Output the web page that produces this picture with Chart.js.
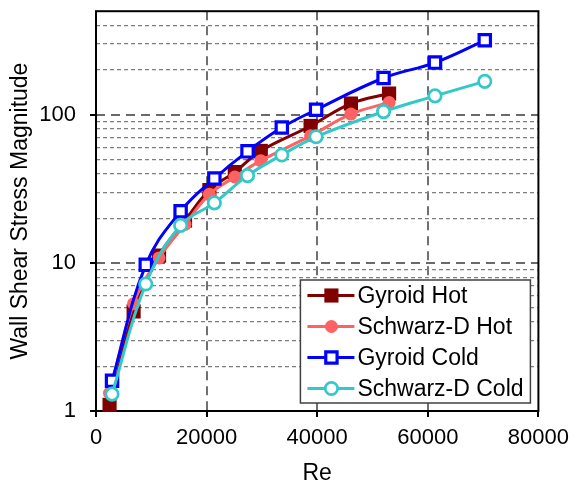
<!DOCTYPE html>
<html>
<head>
<meta charset="utf-8">
<script src="https://cdn.jsdelivr.net/npm/chart.js@4.4.1/dist/chart.umd.min.js"></script>
<style>
  html, body { margin: 0; padding: 0; background: #fff; }
  #wrap { width: 577px; height: 485px; }
</style>
</head>
<body>
<div id="wrap"><canvas id="wssChart" width="577" height="485"></canvas></div>
<script>
// Reynolds numbers and wall shear stress for each case
const reHot = [2450, 6800, 11400, 16100, 20500, 25100, 29800, 38800, 46100, 53000];
const gyroidHot = [1.1, 4.7, 11.2, 19.3, 31, 41, 57, 84, 119, 139];
const schwarzHot = [1.32, 5.3, 10.8, 18.2, 29, 38, 49, 72, 101, 121];

const reCold = [2900, 9000, 15300, 21400, 27400, 33600, 39800, 52000, 61300, 70300];
const gyroidCold = [1.6, 9.7, 22.3, 37.1, 56.6, 82, 108, 177, 225, 318];
const schwarzCold = [1.3, 7.2, 17.9, 25.4, 38.8, 53.5, 71, 105, 134, 168];

const seriesNames = ['Gyroid Hot', 'Schwarz-D Hot', 'Gyroid Cold', 'Schwarz-D Cold'];

// axis ticks
const xTickValues = [0, 20000, 40000, 60000, 80000];
const yTickLabels = [1, 10, 100];
const yGridValues = [1, 2, 3, 4, 5, 6, 7, 8, 9, 10, 20, 30, 40, 50, 60, 70, 80, 90, 100, 200, 300, 400, 500];

const FONT = "'Liberation Sans', Arial, sans-serif";

function pairs(xs, ys) {
    return xs.map((x, i) => ({ x: x, y: ys[i] }));
}

function isMajorY(ctx) {
    return ctx.tick && yTickLabels.includes(ctx.tick.value);
}

const framePlugin = {
    id: 'frame',
    beforeDatasetsDraw(chart) {
        const { ctx, chartArea: a } = chart;
        ctx.save();
        ctx.strokeStyle = '#000';
        ctx.lineWidth = 2;
        ctx.strokeRect(a.left, a.top, a.right - a.left, a.bottom - a.top);
        ctx.restore();
    }
};

// legend box drawn inside the plot, bottom right
const boxLegend = {
    id: 'boxLegend',
    afterDraw(chart) {
        const { ctx, chartArea: a } = chart;
        const w = 230, h = 123;
        const left = a.right - 8 - w;
        const top = a.bottom - 8 - h;
        ctx.save();
        ctx.fillStyle = '#fff';
        ctx.fillRect(left, top, w, h);
        ctx.strokeStyle = '#404040';
        ctx.lineWidth = 1.5;
        ctx.strokeRect(left, top, w, h);

        chart.data.datasets.forEach((ds, i) => {
            const y = top + 15.5 + i * 31;
            ctx.strokeStyle = ds.borderColor;
            ctx.lineWidth = 3;
            ctx.beginPath();
            ctx.moveTo(left + 7, y);
            ctx.lineTo(left + 54, y);
            ctx.stroke();

            ctx.fillStyle = ds.pointBackgroundColor;
            ctx.strokeStyle = ds.borderColor;
            ctx.lineWidth = ds.pointBorderWidth;
            Chart.helpers.drawPoint(ctx, {
                pointStyle: ds.pointStyle,
                radius: ds.pointRadius,
                borderWidth: ds.pointBorderWidth,
                rotation: 0
            }, left + 31, y);

            ctx.fillStyle = '#000';
            ctx.font = '23px ' + FONT;
            ctx.textBaseline = 'middle';
            ctx.textAlign = 'left';
            ctx.fillText(ds.label, left + 57, y + 1);
        });
        ctx.restore();
    }
};

const ctx = document.getElementById('wssChart').getContext('2d');
new Chart(ctx, {
    type: 'line',
    data: {
        datasets: [
            {
                label: seriesNames[0],
                data: pairs(reHot, gyroidHot),
                borderColor: '#800000',
                pointBackgroundColor: '#800000',
                pointStyle: 'rect',
                pointRadius: 10,
                pointBorderWidth: 0,
                order: 3
            },
            {
                label: seriesNames[1],
                data: pairs(reHot, schwarzHot),
                borderColor: '#ff6262',
                pointBackgroundColor: '#ff6262',
                pointStyle: 'circle',
                pointRadius: 6.5,
                pointBorderWidth: 0,
                order: 2
            },
            {
                label: seriesNames[2],
                data: pairs(reCold, gyroidCold),
                borderColor: '#0000ff',
                pointBackgroundColor: '#ffffff',
                pointStyle: 'rect',
                pointRadius: 8,
                pointBorderWidth: 3.2,
                order: 1
            },
            {
                label: seriesNames[3],
                data: pairs(reCold, schwarzCold),
                borderColor: '#33c9c9',
                pointBackgroundColor: '#ffffff',
                pointStyle: 'circle',
                pointRadius: 6.2,
                pointBorderWidth: 2.7,
                order: 0
            }
        ]
    },
    options: {
        responsive: false,
        animation: false,
        clip: false,
        layout: { padding: { top: 11, right: 33, left: 0, bottom: 0 } },
        elements: {
            line: { borderWidth: 3, tension: 0.4 },
            point: { hoverRadius: 8 }
        },
        plugins: {
            legend: { display: false },
            tooltip: { enabled: false }
        },
        scales: {
            x: {
                type: 'linear',
                min: 0,
                max: 80000,
                afterBuildTicks: s => { s.ticks = xTickValues.map(v => ({ value: v })); },
                afterFit: s => { s.height = 74; },
                ticks: {
                    autoSkip: false,
                    maxRotation: 0,
                    padding: 8,
                    color: '#000',
                    font: { family: FONT, size: 22 },
                    callback: v => String(v)
                },
                grid: {
                    color: c => (c.tick && (c.tick.value === 0 || c.tick.value === 80000)) ? 'rgba(0,0,0,0)' : '#707070',
                    lineWidth: 2,
                    tickColor: '#000',
                    tickLength: 6,
                    tickWidth: 2
                },
                border: { display: false, dash: [9, 6] },
                title: {
                    display: true,
                    text: 'Re',
                    color: '#000',
                    font: { family: FONT, size: 23, lineHeight: 1 },
                    padding: 0
                }
            },
            y: {
                type: 'logarithmic',
                min: 1,
                max: 500,
                afterBuildTicks: s => { s.ticks = yGridValues.map(v => ({ value: v })); },
                afterFit: s => { s.width = 96; s.paddingTop = 0; s.paddingBottom = 0; },
                ticks: {
                    autoSkip: false,
                    padding: 14,
                    color: '#000',
                    font: { family: FONT, size: 22 },
                    callback: v => yTickLabels.includes(v) ? String(v) : ''
                },
                grid: {
                    color: c => (c.tick && (c.tick.value === 1 || c.tick.value === 500)) ? 'rgba(0,0,0,0)'
                        : (isMajorY(c) ? '#6a6a6a' : '#7e7e7e'),
                    lineWidth: c => isMajorY(c) ? 2 : 1.3,
                    tickColor: c => isMajorY(c) ? '#000' : 'rgba(0,0,0,0)',
                    tickLength: 6,
                    tickWidth: 2
                },
                border: { display: false, dash: c => isMajorY(c) ? [9, 6] : [4, 3] },
                title: {
                    display: true,
                    text: 'Wall Shear Stress Magnitude',
                    color: '#000',
                    font: { family: FONT, size: 23, lineHeight: 1 },
                    padding: { top: 9 }
                }
            }
        }
    },
    plugins: [framePlugin, boxLegend]
});
</script>
</body>
</html>
